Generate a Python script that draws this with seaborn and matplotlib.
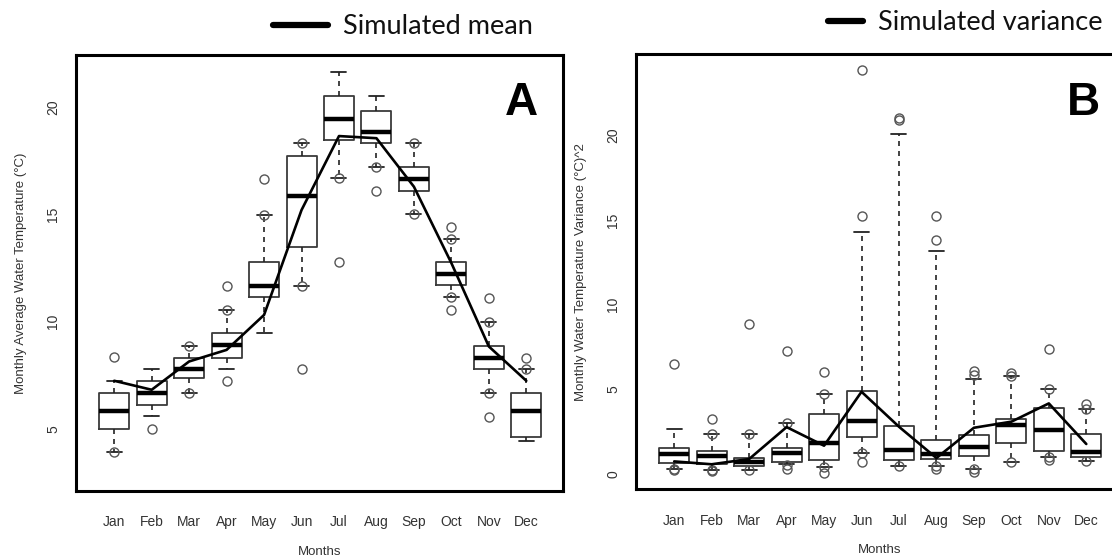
import numpy as np
import matplotlib
matplotlib.use("Agg")
import matplotlib.pyplot as plt
from matplotlib.lines import Line2D
import seaborn as sns

months = ["Jan", "Feb", "Mar", "Apr", "May", "Jun", "Jul", "Aug", "Sep", "Oct", "Nov", "Dec"]

# Panel A: monthly average water temperature (box summaries)
A_whislo = [3.93, 5.59, 6.66, 7.80, 9.47, 11.66, 16.68, 17.19, 15.00, 11.14, 6.68, 4.45]
A_q1 = [5.00, 6.12, 7.36, 8.32, 11.14, 13.48, 18.47, 18.31, 16.09, 11.70, 7.78, 4.61]
A_med = [5.84, 6.69, 7.80, 8.91, 11.68, 15.86, 19.43, 18.85, 16.65, 12.22, 8.32, 5.84]
A_q3 = [6.69, 7.24, 8.32, 9.47, 12.78, 17.74, 20.53, 19.83, 17.21, 12.78, 8.88, 6.68]
A_whishi = [7.24, 7.80, 8.88, 10.55, 14.97, 18.31, 21.62, 20.53, 18.31, 13.87, 9.99, 7.78]
A_points = [[3.93, 8.35], [5.0], [8.88, 6.66], [10.55, 11.66, 7.24], [14.97, 16.63],
            [18.31, 11.66, 7.78], [16.68, 12.78], [17.19, 16.09], [18.31, 15.0],
            [13.87, 14.43, 11.14, 10.55], [9.99, 11.12, 6.68, 5.57], [7.78, 8.32]]
A_sim = [7.24, 6.82, 8.14, 8.68, 10.31, 15.2, 18.65, 18.55, 16.29, 12.73, 8.84, 7.24]

# Panel B: monthly water temperature variance (box summaries)
B_whislo = [0.26, 0.22, 0.22, 0.56, 0.41, 1.21, 0.47, 0.46, 0.30, 0.67, 1.01, 0.77]
B_q1 = [0.62, 0.56, 0.46, 0.71, 0.81, 2.17, 0.81, 0.85, 1.05, 1.84, 1.33, 1.01]
B_med = [1.15, 1.07, 0.71, 1.21, 1.80, 3.12, 1.40, 1.17, 1.58, 2.88, 2.59, 1.30]
B_q3 = [1.50, 1.36, 0.91, 1.54, 3.53, 4.91, 2.84, 1.99, 2.31, 3.22, 3.89, 2.33]
B_whishi = [2.64, 2.35, 2.35, 2.98, 4.73, 14.28, 20.1, 13.18, 5.62, 5.80, 5.03, 3.83]
B_points = [[0.2, 0.26, 6.47], [0.15, 0.25, 2.35, 3.22], [0.25, 2.35, 8.88],
            [0.3, 0.5, 2.98, 7.26], [0.05, 0.41, 4.73, 6.02], [0.69, 1.21, 15.25, 23.89],
            [0.47, 20.93, 21.07], [0.3, 0.46, 13.83, 15.25], [0.1, 0.3, 5.84, 6.1],
            [0.67, 5.8, 5.95], [0.8, 1.01, 5.03, 7.38], [0.77, 3.83, 4.14]]
B_sim = [0.73, 0.56, 0.87, 2.76, 1.66, 4.85, 2.78, 0.93, 2.72, 3.08, 4.16, 1.76]

sns.set_style("white")
plt.rcParams["font.family"] = ["Liberation Sans", "DejaVu Sans"]

fig = plt.figure(figsize=(11.12, 5.56), dpi=100)
W, H = 1112.0, 556.0
axA = fig.add_axes([76 / W, 1 - 491 / H, 487 / W, 436 / H])
axB = fig.add_axes([636 / W, 1 - 489.3 / H, 487 / W, 435.3 / H])

pos = np.arange(len(months))
TXT = "#333333"


def draw(ax, wl, q1, md, q3, wh, pts, sim, ylim, yticks, ylabel):
    stats = []
    for i in range(len(months)):
        stats.append(dict(med=md[i], q1=q1[i], q3=q3[i], whislo=wl[i], whishi=wh[i],
                          fliers=pts[i], label=months[i]))
    ax.bxp(stats, positions=pos, widths=0.8, capwidths=0.4, showfliers=True,
           patch_artist=False,
           boxprops=dict(color="#3a3a3a", lw=1.3),
           medianprops=dict(color="black", lw=3.2, solid_capstyle="butt"),
           whiskerprops=dict(color="#222222", lw=1.2, linestyle=(0, (3, 3))),
           capprops=dict(color="#222222", lw=1.3),
           flierprops=dict(marker="o", markersize=6.5, markerfacecolor="none",
                           markeredgecolor="#555555", markeredgewidth=1.0, linestyle="none"))
    sns.lineplot(x=pos, y=sim, ax=ax, color="black", lw=1.9, zorder=5)
    ax.set_xlim(-1.02, 11.98)
    ax.set_ylim(*ylim)
    ax.set_xticks(pos)
    ax.set_xticklabels(months)
    ax.set_yticks(yticks)
    ax.set_yticklabels([str(t) for t in yticks], rotation=90, va="center")
    ax.tick_params(axis="both", length=6.5, width=1.0, color="#333333",
                   labelsize=10, labelcolor=TXT, direction="out")
    ax.tick_params(axis="x", pad=11)
    ax.tick_params(axis="y", pad=5)
    for sp in ax.spines.values():
        sp.set_visible(True)
        sp.set_color("black")
        sp.set_linewidth(2.2)
    ax.set_xlabel("Months", fontsize=9.5, color=TXT, labelpad=12)
    ax.set_ylabel(ylabel, fontsize=9.5, color=TXT, labelpad=14)
    ax.grid(False)


draw(axA, A_whislo, A_q1, A_med, A_q3, A_whishi, A_points, A_sim, (2.1, 22.43),
     [5, 10, 15, 20], "Monthly Average Water Temperature (°C)")
draw(axB, B_whislo, B_q1, B_med, B_q3, B_whishi, B_points, B_sim, (-0.92, 24.83),
     [0, 5, 10, 15, 20], "Monthly Water Temperature Variance (°C)^2")

# panel letters
fig.text(521 / W, 1 - 103 / H, "A", fontsize=33, fontweight="bold", ha="center", va="center",
         color="black")
fig.text(1083 / W, 1 - 103 / H, "B", fontsize=33, fontweight="bold", ha="center", va="center",
         color="black")

# legend-like keys above panels
fig.add_artist(Line2D([273 / W, 328 / W], [1 - 25 / H, 1 - 25 / H], color="black", lw=4.5))
fig.text(343 / W, 1 - 27 / H, "Simulated mean", fontsize=19.5, ha="left", va="center",
         color="#111111", family=["Lato", "DejaVu Sans"])
fig.add_artist(Line2D([828 / W, 863 / W], [1 - 21 / H, 1 - 21 / H], color="black", lw=4.5))
fig.text(878 / W, 1 - 23 / H, "Simulated variance", fontsize=19.5, ha="left", va="center",
         color="#111111", family=["Lato", "DejaVu Sans"])

fig.savefig("out.png", dpi=100, facecolor="white")
